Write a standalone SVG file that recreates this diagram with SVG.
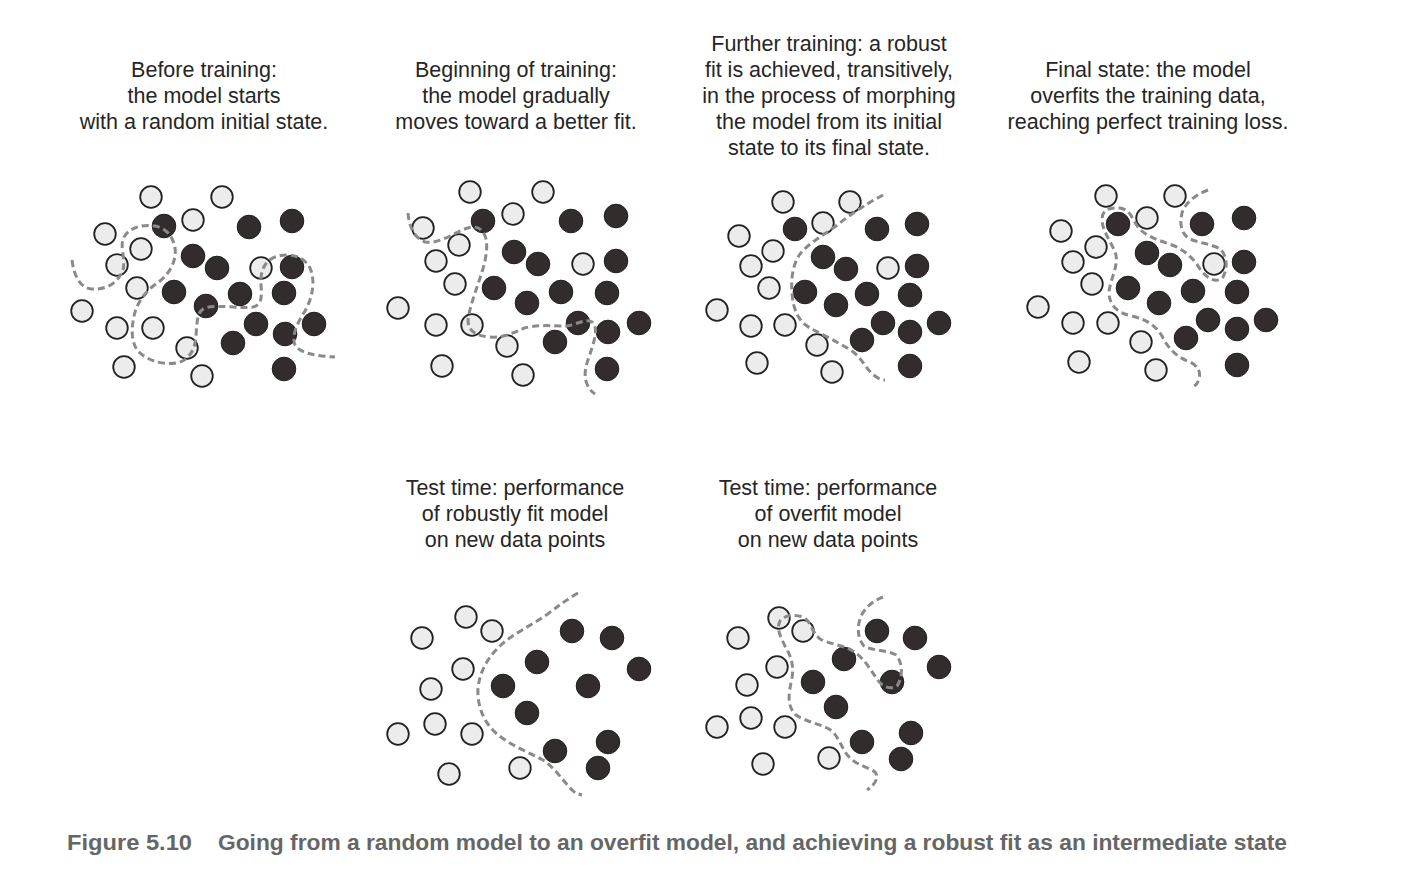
<svg xmlns="http://www.w3.org/2000/svg" width="1407" height="894" viewBox="0 0 1407 894">
<style>
.t{font-family:"Liberation Sans",Arial,sans-serif;font-size:21.5px;fill:#262626;text-anchor:middle}
.cap{font-family:"Liberation Sans",Arial,sans-serif;font-size:22px;font-weight:bold;fill:#666}
.l{fill:#ececec;stroke:#222;stroke-width:1.8}
.d{fill:#322d2c;stroke:#1e1e1e;stroke-width:1}
.b{fill:none;stroke:#8a8a8a;stroke-width:3;stroke-dasharray:7 4;stroke-linejoin:round;stroke-linecap:butt}
</style>
<rect width="1407" height="894" fill="#fff"/>
<defs>
<circle id="L" r="10.8" class="l"/>
<circle id="D" r="11.8" class="d"/>
</defs>

<g id="panel1">
<text class="t" x="204" y="77">Before training:</text>
<text class="t" x="204" y="103">the model starts</text>
<text class="t" x="204" y="129">with a random initial state.</text>
<use href="#L" x="151" y="197"/><use href="#L" x="222" y="197"/><use href="#L" x="193" y="220"/>
<use href="#L" x="105" y="234"/><use href="#L" x="141" y="249"/><use href="#L" x="117" y="265"/>
<use href="#L" x="137" y="288"/><use href="#L" x="261" y="268"/><use href="#L" x="82" y="311"/>
<use href="#L" x="117" y="328"/><use href="#L" x="153" y="328"/><use href="#L" x="187" y="348"/>
<use href="#L" x="124" y="367"/><use href="#L" x="202" y="376"/>
<use href="#D" x="164" y="226"/><use href="#D" x="249" y="227"/><use href="#D" x="292" y="221"/>
<use href="#D" x="193" y="256"/><use href="#D" x="217" y="268"/><use href="#D" x="174" y="292"/>
<use href="#D" x="206" y="306"/><use href="#D" x="240" y="294"/><use href="#D" x="292" y="267"/>
<use href="#D" x="284" y="293"/><use href="#D" x="256" y="324"/><use href="#D" x="314" y="324"/>
<use href="#D" x="285" y="334"/><use href="#D" x="233" y="343"/><use href="#D" x="284" y="369"/>
</g>

<g id="panel2">
<text class="t" x="516" y="77">Beginning of training:</text>
<text class="t" x="516" y="103">the model gradually</text>
<text class="t" x="516" y="129">moves toward a better fit.</text>
<use href="#L" x="470" y="192"/><use href="#L" x="543" y="192"/><use href="#L" x="513" y="214"/>
<use href="#L" x="423" y="228"/><use href="#L" x="459" y="245"/><use href="#L" x="436" y="261"/>
<use href="#L" x="455" y="284"/><use href="#L" x="583" y="264"/><use href="#L" x="398" y="308"/>
<use href="#L" x="436" y="325"/><use href="#L" x="472" y="325"/><use href="#L" x="507" y="346"/>
<use href="#L" x="442" y="366"/><use href="#L" x="523" y="375"/>
<use href="#D" x="483" y="221"/><use href="#D" x="571" y="221"/><use href="#D" x="616" y="216"/>
<use href="#D" x="514" y="252"/><use href="#D" x="538" y="264"/><use href="#D" x="616" y="261"/>
<use href="#D" x="494" y="288"/><use href="#D" x="527" y="303"/><use href="#D" x="561" y="292"/>
<use href="#D" x="607" y="293"/><use href="#D" x="578" y="323"/><use href="#D" x="639" y="323"/>
<use href="#D" x="608" y="332"/><use href="#D" x="555" y="342"/><use href="#D" x="607" y="369"/>
</g>

<g id="panel3">
<text class="t" x="829" y="51">Further training: a robust</text>
<text class="t" x="829" y="77">fit is achieved, transitively,</text>
<text class="t" x="829" y="103">in the process of morphing</text>
<text class="t" x="829" y="129">the model from its initial</text>
<text class="t" x="829" y="155">state to its final state.</text>
<use href="#L" x="783" y="202"/><use href="#L" x="850" y="202"/><use href="#L" x="823" y="223"/>
<use href="#L" x="739" y="236"/><use href="#L" x="773" y="251"/><use href="#L" x="751" y="266"/>
<use href="#L" x="769" y="288"/><use href="#L" x="888" y="268"/><use href="#L" x="717" y="310"/>
<use href="#L" x="751" y="326"/><use href="#L" x="785" y="325"/><use href="#L" x="817" y="345"/>
<use href="#L" x="757" y="363"/><use href="#L" x="832" y="372"/>
<use href="#D" x="795" y="229"/><use href="#D" x="877" y="229"/><use href="#D" x="917" y="224"/>
<use href="#D" x="823" y="257"/><use href="#D" x="846" y="269"/><use href="#D" x="917" y="266"/>
<use href="#D" x="805" y="292"/><use href="#D" x="836" y="305"/><use href="#D" x="867" y="294"/>
<use href="#D" x="910" y="295"/><use href="#D" x="883" y="323"/><use href="#D" x="939" y="323"/>
<use href="#D" x="910" y="332"/><use href="#D" x="862" y="340"/><use href="#D" x="910" y="366"/>
</g>

<g id="panel4">
<text class="t" x="1148" y="77">Final state: the model</text>
<text class="t" x="1148" y="103">overfits the training data,</text>
<text class="t" x="1148" y="129">reaching perfect training loss.</text>
<use href="#L" x="1106" y="196"/><use href="#L" x="1175" y="196"/><use href="#L" x="1147" y="218"/>
<use href="#L" x="1061" y="231"/><use href="#L" x="1096" y="247"/><use href="#L" x="1073" y="262"/>
<use href="#L" x="1092" y="284"/><use href="#L" x="1214" y="264"/><use href="#L" x="1038" y="307"/>
<use href="#L" x="1073" y="323"/><use href="#L" x="1108" y="323"/><use href="#L" x="1141" y="342"/>
<use href="#L" x="1079" y="362"/><use href="#L" x="1156" y="370"/>
<use href="#D" x="1118" y="224"/><use href="#D" x="1202" y="224"/><use href="#D" x="1244" y="218"/>
<use href="#D" x="1147" y="253"/><use href="#D" x="1170" y="265"/><use href="#D" x="1244" y="262"/>
<use href="#D" x="1128" y="288"/><use href="#D" x="1159" y="303"/><use href="#D" x="1193" y="291"/>
<use href="#D" x="1237" y="292"/><use href="#D" x="1208" y="320"/><use href="#D" x="1266" y="320"/>
<use href="#D" x="1237" y="329"/><use href="#D" x="1186" y="338"/><use href="#D" x="1237" y="365"/>
</g>

<g id="panel5">
<text class="t" x="515" y="495">Test time: performance</text>
<text class="t" x="515" y="521">of robustly fit model</text>
<text class="t" x="515" y="547">on new data points</text>
<use href="#L" x="466" y="617"/><use href="#L" x="492" y="631"/><use href="#L" x="422" y="638"/>
<use href="#L" x="463" y="669"/><use href="#L" x="431" y="689"/><use href="#L" x="435" y="724"/>
<use href="#L" x="398" y="734"/><use href="#L" x="472" y="734"/><use href="#L" x="520" y="768"/>
<use href="#L" x="449" y="774"/>
<use href="#D" x="572" y="631"/><use href="#D" x="612" y="638"/><use href="#D" x="537" y="662"/>
<use href="#D" x="639" y="669"/><use href="#D" x="503" y="686"/><use href="#D" x="588" y="686"/>
<use href="#D" x="527" y="713"/><use href="#D" x="608" y="742"/><use href="#D" x="555" y="751"/>
<use href="#D" x="598" y="768"/>
</g>

<g id="panel6">
<text class="t" x="828" y="495">Test time: performance</text>
<text class="t" x="828" y="521">of overfit model</text>
<text class="t" x="828" y="547">on new data points</text>
<use href="#L" x="779" y="618"/><use href="#L" x="803" y="631"/><use href="#L" x="738" y="638"/>
<use href="#L" x="777" y="667"/><use href="#L" x="747" y="685"/><use href="#L" x="751" y="718"/>
<use href="#L" x="717" y="727"/><use href="#L" x="785" y="727"/><use href="#L" x="829" y="758"/>
<use href="#L" x="763" y="764"/>
<use href="#D" x="877" y="631"/><use href="#D" x="915" y="638"/><use href="#D" x="844" y="659"/>
<use href="#D" x="939" y="667"/><use href="#D" x="813" y="682"/><use href="#D" x="892" y="682"/>
<use href="#D" x="836" y="707"/><use href="#D" x="911" y="733"/><use href="#D" x="862" y="742"/>
<use href="#D" x="901" y="759"/>
</g>

<g id="connectors">
<path class="b" d="M72,260 C74,276 80,288 92,289 C106,290 118,283 123,270 C126,258 119,247 124,237 C130,227 143,224 155,226 C166,228 173,236 175,248 C177,262 168,276 156,284 C146,291 137,302 134,316 C131,330 131,345 140,353 C149,361 163,365 176,363 C189,361 195,350 196,336 C197,322 197,311 205,308 C217,304 240,309 253,307 C262,305 262,296 261,285 C260,272 264,261 275,257 C287,253 302,255 309,266 C316,279 313,297 305,311 C298,322 291,335 295,345 C300,354 318,356 335,357"/>
<path class="b" d="M408,213 C409,225 413,237 425,242 C436,244 448,237 458,232 C468,227 477,224 483,232 C489,240 487,256 482,272 C477,288 470,305 468,320 C468,331 476,336 490,337 C503,338 513,333 522,329 C534,324 553,326 566,326 C577,325 585,318 592,322 C599,327 594,342 590,354 C586,365 583,375 587,384 C589,389 592,392 595,394"/>
<path class="b" d="M883,195 C868,203 852,213 836,226 C822,236 808,244 800,254 C792,266 791,280 792,293 C793,310 799,322 810,328 C823,335 838,342 852,351 C863,359 866,370 875,376 C879,379 882,380 885,380"/>
<path class="b" d="M1208,190 C1195,195 1185,203 1182,213 C1179,225 1182,235 1190,239 C1199,243 1212,244 1220,249 C1227,255 1228,268 1223,277 C1217,284 1207,279 1200,269 C1194,259 1185,250 1172,245 C1158,240 1145,236 1138,227 C1132,219 1131,210 1120,208 C1110,207 1102,210 1102,219 C1102,232 1112,242 1116,255 C1118,268 1110,280 1109,292 C1109,305 1117,313 1132,316 C1147,320 1155,325 1162,336 C1168,348 1176,357 1190,362 C1198,366 1201,372 1199,379 C1198,383 1196,385 1193,387"/>
<path class="b" d="M578,593 C566,600 557,607 545,616 C530,626 513,634 501,645 C489,656 480,670 478,688 C477,705 483,722 497,734 C510,745 528,752 543,760 C555,768 563,781 572,790 C575,793 578,794 582,795"/>
<path class="b" d="M883,597 C875,600 866,606 861,616 C857,626 857,638 864,646 C872,651 888,650 896,655 C903,662 903,678 897,686 C891,690 882,687 877,679 C870,669 864,658 853,651 C843,645 829,644 820,639 C811,631 811,621 803,617 C794,614 784,615 780,621 C776,629 781,638 785,646 C791,656 794,665 792,678 C789,692 786,706 796,715 C806,722 822,724 832,731 C840,739 842,750 850,758 C857,765 868,767 875,772 C879,777 876,784 867,790"/>
</g>

<g id="caption">
<text class="cap" x="67" y="850" textLength="125" lengthAdjust="spacingAndGlyphs">Figure 5.10</text>
<text class="cap" x="218" y="850" textLength="1069" lengthAdjust="spacingAndGlyphs">Going from a random model to an overfit model, and achieving a robust fit as an intermediate state</text>
</g>
</svg>
